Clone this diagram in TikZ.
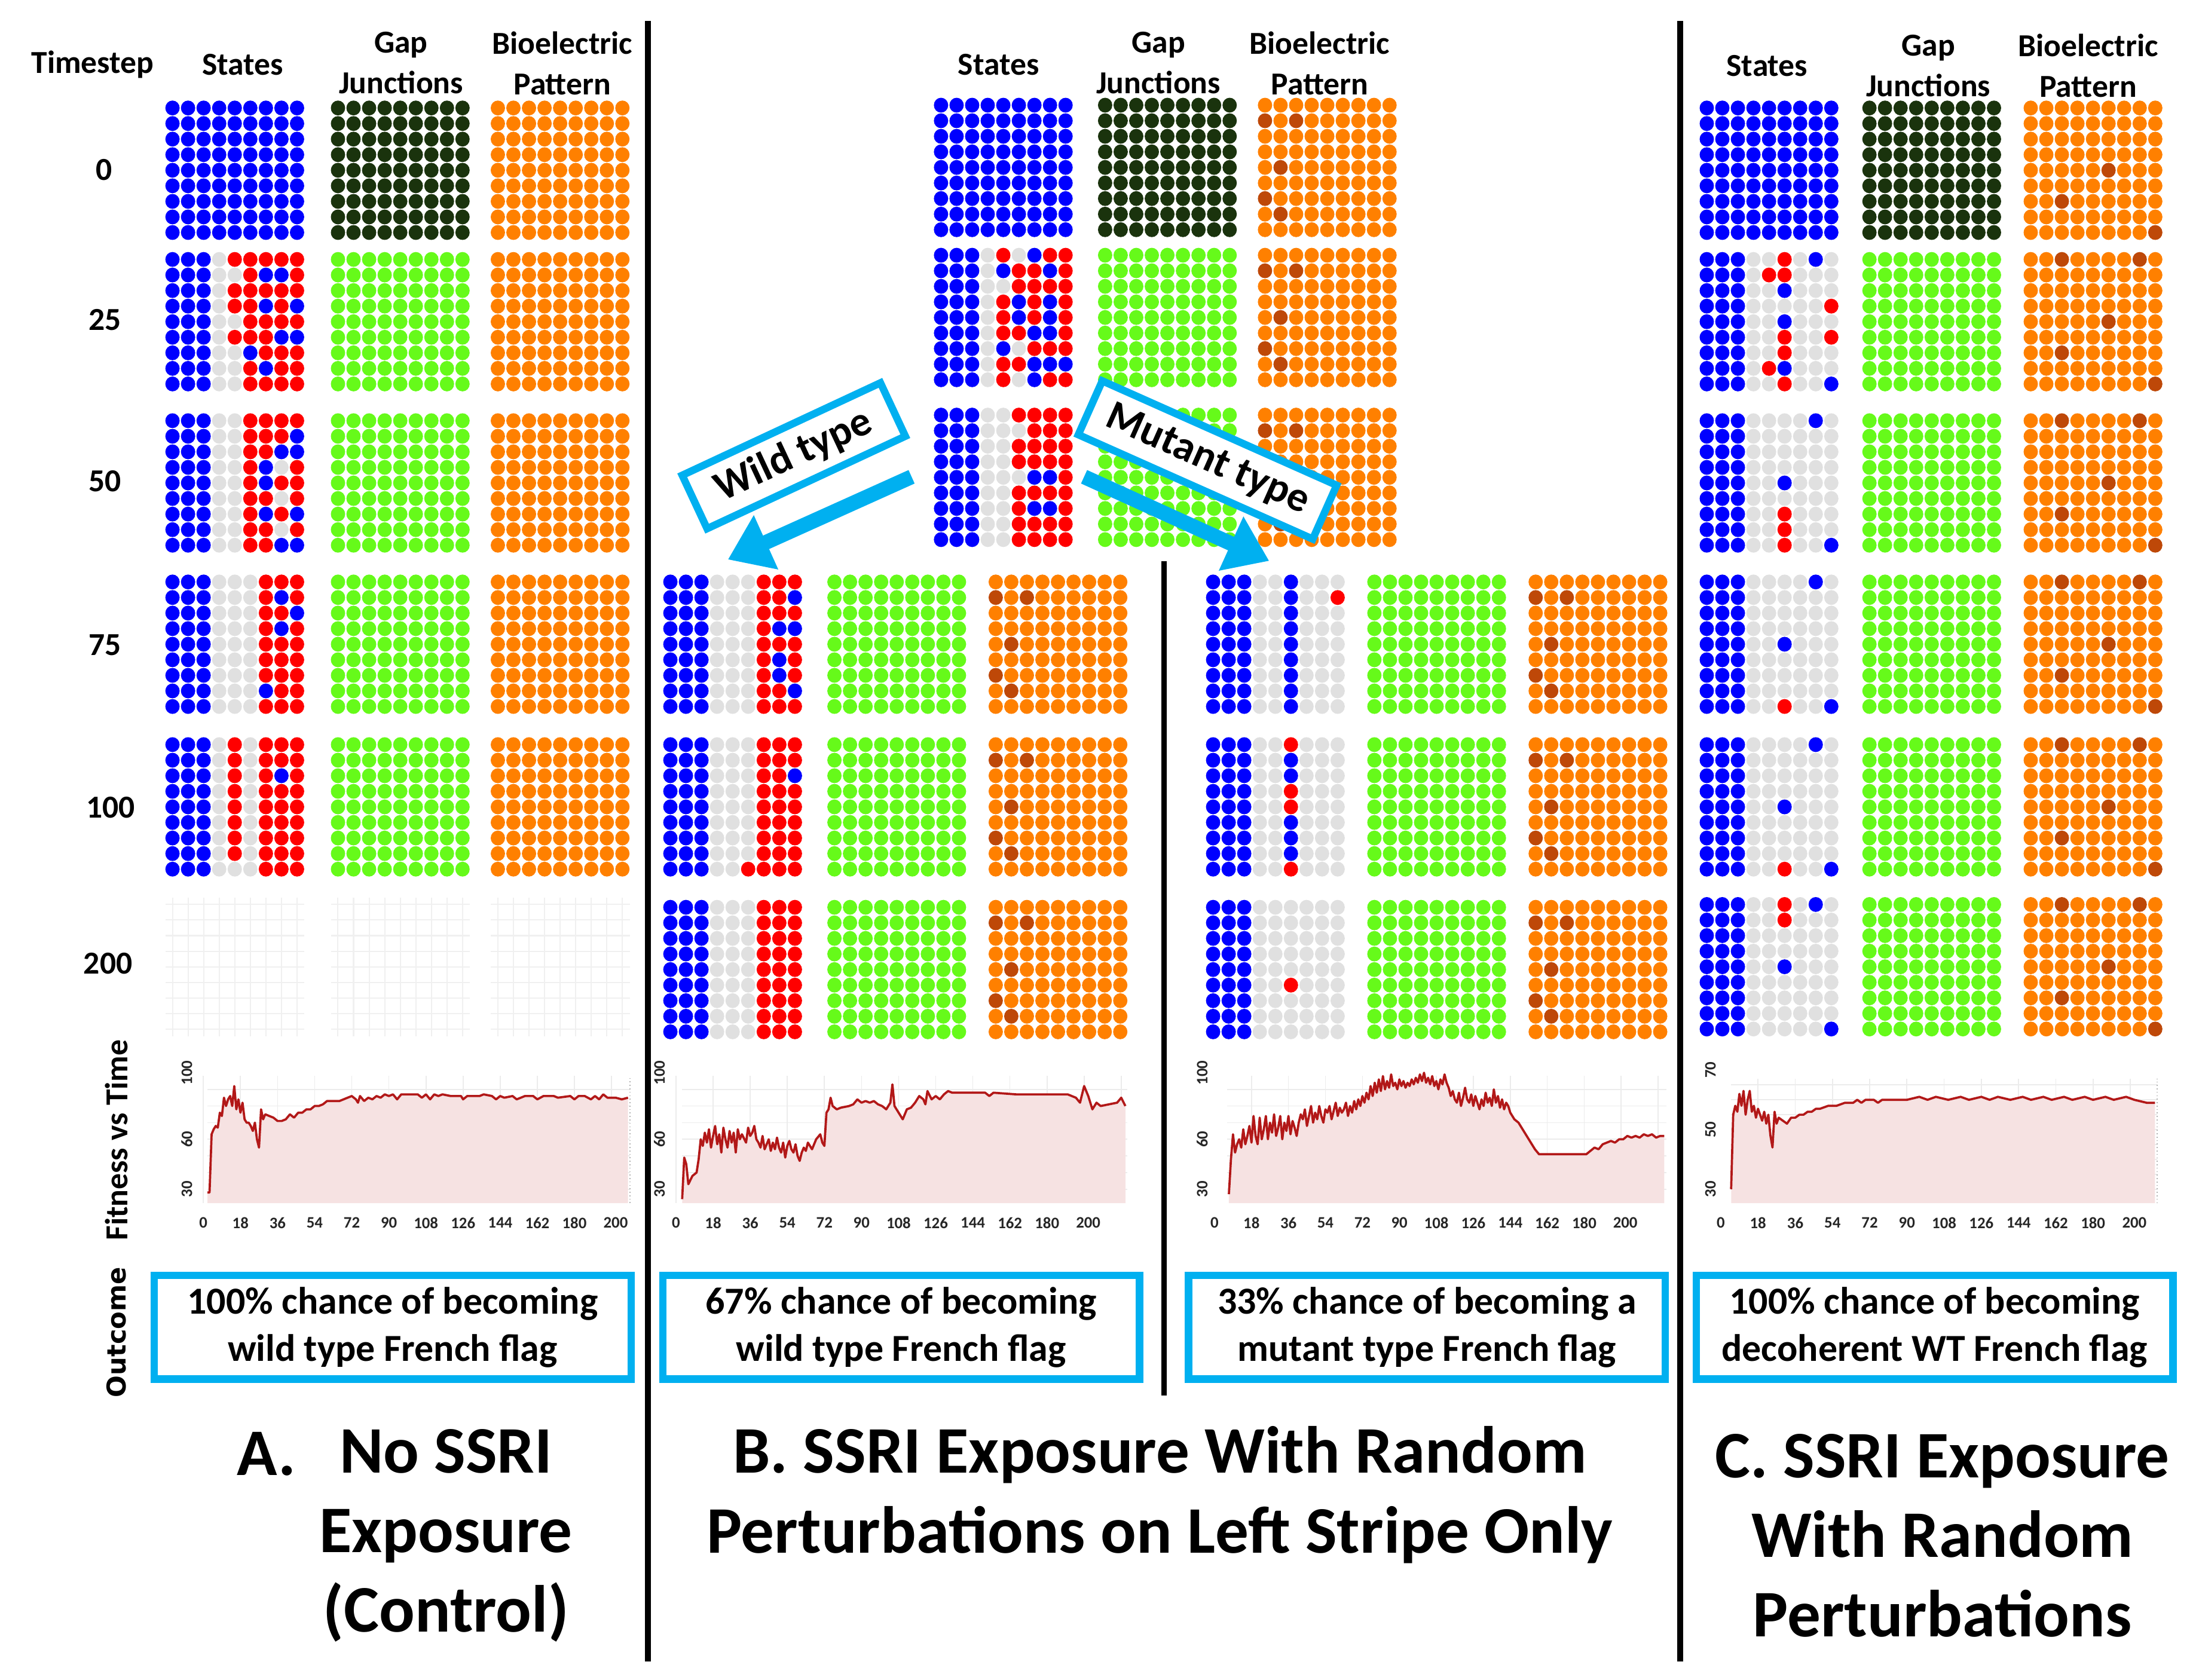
\documentclass[tikz,border=0pt]{standalone}
\usepackage{fontspec}
\setmainfont{Carlito}
\newfontfamily\outfont{DejaVu Sans}
\usetikzlibrary{arrows.meta}

\definecolor{stblue}{RGB}{0,0,255}
\definecolor{stred}{RGB}{255,0,0}
\definecolor{stgrey}{RGB}{224,224,224}
\definecolor{gjdark}{RGB}{26,51,13}
\definecolor{gjgreen}{RGB}{102,250,26}
\definecolor{bioorange}{RGB}{255,128,0}
\definecolor{biodark}{RGB}{190,72,8}
\definecolor{lineblue}{RGB}{0,176,240}
\definecolor{chartred}{RGB}{178,24,24}
\definecolor{chartpink}{RGB}{246,226,226}

% one 9x9 grid of cells, each row written as 9 letters
\newcount\gridcol
\newcount\gridrow
\newcommand\dotline[1]{\gridcol=0 \dotlineloop#1\relax}
\def\dotlineloop#1{\ifx\relax#1\else
  \fill[dot#1] ({\gx+5+11.1*\the\gridcol},{\gy+5+11.1*\the\gridrow}) circle[x radius=5.1, y radius=5.3];%
  \advance\gridcol by 1
  \expandafter\dotlineloop\fi}
\newcommand\stategrid[3]{%
  \def\gx{#1}\def\gy{#2}\global\gridrow=0
  \edef\gridrows{#3}%
  \foreach \rowcode in \gridrows {%
    \expandafter\dotline\expandafter{\rowcode}%
    \global\advance\gridrow by 1 }}
\newcommand\ghostgrid[2]{%
  \foreach \k in {0,...,8}{%
    \draw[ghost] ({#1+5+11.1*\k},#2) -- ++(0,99);
    \draw[ghost] (#1,{#2+5+11.1*\k}) -- ++(99,0);}}

\def\allblue{BBBBBBBBB,BBBBBBBBB,BBBBBBBBB,BBBBBBBBB,BBBBBBBBB,BBBBBBBBB,BBBBBBBBB,BBBBBBBBB,BBBBBBBBB}
\def\alldark{DDDDDDDDD,DDDDDDDDD,DDDDDDDDD,DDDDDDDDD,DDDDDDDDD,DDDDDDDDD,DDDDDDDDD,DDDDDDDDD,DDDDDDDDD}
\def\allgreen{GGGGGGGGG,GGGGGGGGG,GGGGGGGGG,GGGGGGGGG,GGGGGGGGG,GGGGGGGGG,GGGGGGGGG,GGGGGGGGG,GGGGGGGGG}
\def\allorange{OOOOOOOOO,OOOOOOOOO,OOOOOOOOO,OOOOOOOOO,OOOOOOOOO,OOOOOOOOO,OOOOOOOOO,OOOOOOOOO,OOOOOOOOO}
\def\bioB{OOOOOOOOO,XOXOOOOOO,OOOOOOOOO,OOOOOOOOO,OXOOOOOOO,OOOOOOOOO,XOOOOOOOO,OXOOOOOOO,OOOOOOOOO}
\def\bioC{OOXOOOOXO,OOOOOOOOO,OOOOOOOOO,OOOOOOOOO,OOOOOXOOO,OOOOOOOOO,OOXOOOOOO,OOOOOOOOO,OOOOOOOOX}
\def\bioCzero{OOOOOOOOO,OOOOOOOOO,OOOOOOOOO,OOOOOOOOO,OOOOOXOOO,OOOOOOOOO,OOXOOOOOO,OOOOOOOOO,OOOOOOOOX}

% fitness curves (time, fitness)
\def\fitA{(2,28) -- (3,28) -- (4,63) -- (5,66) -- (6,68) -- (7,67) -- (8,76) -- (9,74) -- (10,85) -- (11,80) -- (12,84) -- (13,86) -- (14,80) -- (15,92) -- (16,78) -- (17,84) -- (18,76) -- (19,82) -- (20,72) -- (21,70) -- (22,70) -- (23,68) -- (24,65) -- (25,70) -- (26,60) -- (27,55) -- (28,78) -- (29,72) -- (30,75) -- (32,74) -- (34,73) -- (36,71) -- (38,71) -- (40,72) -- (42,75) -- (44,73) -- (46,76) -- (48,76) -- (50,78) -- (52,78) -- (54,80) -- (56,80) -- (58,81) -- (60,83) -- (62,83) -- (66,83) -- (70,85) -- (72,86) -- (74,84) -- (75,82) -- (76,86) -- (78,83) -- (80,85) -- (82,84) -- (84,86) -- (86,85) -- (88,87) -- (90,86) -- (92,87) -- (94,84) -- (96,87) -- (100,87) -- (104,87) -- (106,85) -- (108,87) -- (110,84) -- (112,87) -- (114,86) -- (116,87) -- (120,86) -- (125,86) -- (126,84) -- (128,86) -- (134,86) -- (136,87) -- (140,86) -- (142,84) -- (144,86) -- (146,85) -- (150,86) -- (152,84) -- (156,86) -- (160,86) -- (162,84) -- (165,86) -- (170,86) -- (172,85) -- (178,86) -- (180,84) -- (182,86) -- (185,86) -- (188,84) -- (190,86) -- (192,84) -- (194,87) -- (196,85) -- (200,85) -- (203,84) -- (206,85)}
\def\fitB{(3,24) -- (4,49) -- (5,45) -- (6,33) -- (8,38) -- (10,40) -- (11,48) -- (12,60) -- (13,56) -- (14,64) -- (15,58) -- (16,66) -- (17,55) -- (18,62) -- (19,68) -- (20,57) -- (21,63) -- (22,52) -- (23,67) -- (24,60) -- (25,55) -- (26,65) -- (27,58) -- (28,64) -- (29,52) -- (30,66) -- (31,60) -- (32,63) -- (34,58) -- (35,67) -- (36,62) -- (37,64) -- (38,68) -- (39,60) -- (40,58) -- (41,55) -- (42,62) -- (43,54) -- (44,57) -- (45,60) -- (46,53) -- (47,58) -- (48,54) -- (49,61) -- (50,55) -- (51,52) -- (52,58) -- (53,49) -- (54,56) -- (55,59) -- (56,54) -- (57,52) -- (58,57) -- (59,50) -- (60,47) -- (61,52) -- (62,55) -- (63,53) -- (64,58) -- (65,56) -- (66,54) -- (67,57) -- (68,60) -- (70,63) -- (71,58) -- (72,56) -- (73,76) -- (74,78) -- (75,85) -- (76,80) -- (78,78) -- (80,79) -- (84,80) -- (86,81) -- (88,84) -- (90,82) -- (92,83) -- (94,82) -- (96,83) -- (98,81) -- (100,80) -- (102,78) -- (104,82) -- (105,93) -- (106,80) -- (108,76) -- (110,72) -- (112,78) -- (114,79) -- (116,82) -- (118,86) -- (120,84) -- (121,81) -- (122,89) -- (124,84) -- (126,86) -- (128,84) -- (130,87) -- (132,89) -- (134,88) -- (150,88) -- (152,86) -- (154,88) -- (165,87) -- (190,87) -- (194,85) -- (196,82) -- (198,92) -- (200,86) -- (202,78) -- (204,82) -- (206,80) -- (210,81) -- (214,82) -- (216,85) -- (218,80)}
\def\fitBm{(7,27) -- (8,48) -- (9,63) -- (10,52) -- (11,57) -- (12,60) -- (13,55) -- (14,66) -- (15,57) -- (16,62) -- (17,68) -- (18,58) -- (19,74) -- (20,62) -- (21,57) -- (22,73) -- (23,60) -- (24,66) -- (25,74) -- (26,60) -- (27,70) -- (28,64) -- (29,75) -- (30,62) -- (31,67) -- (32,74) -- (33,60) -- (34,70) -- (35,65) -- (36,74) -- (37,63) -- (38,71) -- (39,67) -- (40,62) -- (41,70) -- (42,75) -- (43,72) -- (44,78) -- (45,68) -- (46,74) -- (47,80) -- (48,70) -- (49,76) -- (50,72) -- (51,80) -- (52,74) -- (53,70) -- (54,78) -- (55,76) -- (56,80) -- (57,72) -- (58,77) -- (59,82) -- (60,74) -- (61,79) -- (62,76) -- (63,78) -- (64,82) -- (65,74) -- (66,80) -- (67,76) -- (68,83) -- (69,78) -- (70,84) -- (71,80) -- (72,86) -- (73,82) -- (74,88) -- (75,84) -- (76,92) -- (77,86) -- (78,94) -- (79,88) -- (80,96) -- (81,89) -- (82,98) -- (83,90) -- (84,95) -- (85,91) -- (86,99) -- (87,92) -- (88,94) -- (89,90) -- (90,96) -- (91,92) -- (92,95) -- (93,91) -- (94,94) -- (95,92) -- (96,96) -- (97,93) -- (98,97) -- (99,94) -- (100,99) -- (101,95) -- (102,100) -- (103,94) -- (104,97) -- (105,93) -- (106,98) -- (107,92) -- (108,95) -- (109,90) -- (110,96) -- (111,93) -- (112,99) -- (113,94) -- (114,91) -- (115,86) -- (116,89) -- (117,84) -- (118,82) -- (119,88) -- (120,80) -- (121,85) -- (122,91) -- (123,84) -- (124,82) -- (125,87) -- (126,80) -- (127,86) -- (128,82) -- (129,78) -- (130,84) -- (131,80) -- (132,88) -- (133,82) -- (134,85) -- (135,80) -- (136,90) -- (137,82) -- (138,86) -- (139,79) -- (140,84) -- (141,78) -- (142,82) -- (143,80) -- (144,76) -- (146,72) -- (148,70) -- (150,66) -- (152,62) -- (154,58) -- (156,54) -- (158,51) -- (181,51) -- (183,53) -- (185,55) -- (187,54) -- (189,57) -- (191,58) -- (193,59) -- (195,58) -- (197,60) -- (199,60) -- (201,62) -- (203,61) -- (205,62) -- (207,61) -- (209,63) -- (211,62) -- (213,63) -- (215,61) -- (217,62) -- (219,62)}
\def\fitC{(5,30) -- (6,55) -- (7,58) -- (8,56) -- (9,62) -- (10,58) -- (11,63) -- (12,55) -- (13,60) -- (14,63) -- (15,56) -- (16,58) -- (17,54) -- (18,57) -- (19,55) -- (20,53) -- (21,56) -- (22,52) -- (23,55) -- (24,48) -- (25,44) -- (26,56) -- (27,52) -- (28,54) -- (30,53) -- (32,52) -- (34,54) -- (36,54) -- (38,55) -- (40,55) -- (42,56) -- (44,56) -- (46,57) -- (48,57) -- (52,58) -- (56,58) -- (60,59) -- (64,59) -- (66,60) -- (68,59) -- (70,60) -- (74,60) -- (76,59) -- (78,60) -- (90,60) -- (96,61) -- (100,60) -- (104,61) -- (110,60) -- (116,61) -- (120,60) -- (126,61) -- (130,60) -- (134,61) -- (140,60) -- (146,61) -- (150,60) -- (156,61) -- (160,60) -- (166,61) -- (170,60) -- (176,61) -- (180,60) -- (186,61) -- (190,60) -- (196,61) -- (200,60) -- (206,59) -- (210,59)}

\tikzset{
  dotB/.style={fill=stblue}, dotR/.style={fill=stred}, dotW/.style={fill=stgrey},
  dotD/.style={fill=gjdark}, dotG/.style={fill=gjgreen},
  dotO/.style={fill=bioorange}, dotX/.style={fill=biodark},
  ghost/.style={draw=gray!12, line width=0.5pt},
  colhead/.style={font=\fontsize{13}{16.5}\selectfont\bfseries, align=center},
  rowlabel/.style={font=\fontsize{13}{15}\selectfont\bfseries},
  ticklabel/.style={font=\fontsize{6.5}{7}\selectfont\bfseries, inner sep=0pt, text=black!85},
  chartgrid/.style={draw=gray!15, line width=0.4pt},
  chartline/.style={draw=chartred, line width=0.9pt, line join=round},
  chartfill/.style={fill=chartpink},
  outcome/.style={draw=lineblue, line width=3pt, minimum width=6.8cm, minimum height=1.48cm,
    align=center, font=\fontsize{15.5}{19.3}\selectfont\bfseries},
  tagbox/.style={draw=lineblue, line width=3pt, fill=white, minimum height=0.84cm, inner sep=2pt,
    font=\fontsize{17}{19}\selectfont\bfseries},
  bigarrow/.style={draw=lineblue, line width=6pt, -{Triangle[width=23pt,length=17pt]}},
  divider/.style={line width=2.3pt},
  paneltitle/.style={font=\fontsize{27}{32.3}\selectfont\bfseries, align=center},
}

\begin{document}
\begin{tikzpicture}[x=0.02cm, y=-0.02cm]
\useasboundingbox (0,0) rectangle (1568,1198);

% headers
\node[colhead] (tshead) at (66,46) {Timestep};
\node[colhead] (stA) at (173,46) {States};
\node[colhead] (gjA) at (286,45) {Gap\\Junctions};
\node[colhead] (bpA) at (401,45) {Bioelectric\\Pattern};
\node[colhead] (stB) at (712,46) {States};
\node[colhead] (gjB) at (826,45) {Gap\\Junctions};
\node[colhead] (bpB) at (941,45) {Bioelectric\\Pattern};
\node[colhead] (stC) at (1260,47) {States};
\node[colhead] (gjC) at (1375,47) {Gap\\Junctions};
\node[colhead] (bpC) at (1489,47) {Bioelectric\\Pattern};

% timesteps
\node[rowlabel] (t0) at (74,121) {0};
\node[rowlabel] (t25) at (75,228) {25};
\node[rowlabel] (t50) at (75,343) {50};
\node[rowlabel] (t75) at (75,460) {75};
\node[rowlabel] (t100) at (79,576) {100};
\node[rowlabel] (t200) at (77,687) {200};

% panel A
\stategrid{118}{72}{\allblue}
\stategrid{236}{72}{\alldark}
\stategrid{350}{72}{\allorange}
\stategrid{118}{180}{BBBWRRRRR,BBBWWRBBR,BBBWRRRRR,BBBWRRBRB,BBBWWRRRR,BBBWRRRBB,BBBWWBRRR,BBBWWRBRR,BBBWWRRRR}
\stategrid{236}{180}{\allgreen}
\stategrid{350}{180}{\allorange}
\stategrid{118}{295}{BBBWWRRRR,BBBWWRRRB,BBBWWRRBB,BBBWWRBWR,BBBWWRBRR,BBBWWRRWR,BBBWWRBRB,BBBWWRRWR,BBBWWRRBB}
\stategrid{236}{295}{\allgreen}
\stategrid{350}{295}{\allorange}
\stategrid{118}{410}{BBBWWWRRR,BBBWWWRBR,BBBWWWRRB,BBBWWWRBR,BBBWWWRRR,BBBWWWRRR,BBBWWWRRR,BBBWWWBRR,BBBWWWRRR}
\stategrid{236}{410}{\allgreen}
\stategrid{350}{410}{\allorange}
\stategrid{118}{526}{BBBWRWRRR,BBBWRWRRR,BBBWRWRBR,BBBWRWRRR,BBBWRWRRR,BBBWRWRRR,BBBWRWRRR,BBBWRWRRR,BBBWWWRRR}
\stategrid{236}{526}{\allgreen}
\stategrid{350}{526}{\allorange}
\ghostgrid{118}{640}
\ghostgrid{236}{640}
\ghostgrid{350}{640}

% panel B, common start
\stategrid{666}{70}{\allblue}
\stategrid{783}{70}{\alldark}
\stategrid{897}{70}{\bioB}
\stategrid{666}{177}{BBBWRWBRR,BBBWBRRBR,BBBWWRRRR,BBBWRBRBR,BBBWRBRBR,BBBWRRBBR,BBBWBWRRR,BBBWRRBBB,BBBWRWBRR}
\stategrid{783}{177}{\allgreen}
\stategrid{897}{177}{\bioB}
\stategrid{666}{291}{BBBWWRRRR,BBBWWWRRR,BBBWWRRRR,BBBWWRRRR,BBBWWWBBR,BBBWWRRRR,BBBWWRBBR,BBBWWRRRR,BBBWWRRRR}
\stategrid{783}{291}{\allgreen}
\stategrid{897}{291}{\bioB}

% panel B, wild type branch
\stategrid{473}{410}{BBBWWWRRR,BBBWWWRRB,BBBWWWRRR,BBBWWWRBB,BBBWWWRRR,BBBWWWRBR,BBBWWWRBR,BBBWWWRRB,BBBWWWRRR}
\stategrid{590}{410}{\allgreen}
\stategrid{705}{410}{\bioB}
\stategrid{473}{526}{BBBWWWRRR,BBBWWWRRR,BBBWWWRRB,BBBWWWRRR,BBBWWWRRR,BBBWWWRRR,BBBWWWRRR,BBBWWWRRR,BBBWWRRRR}
\stategrid{590}{526}{\allgreen}
\stategrid{705}{526}{\bioB}
\stategrid{473}{642}{BBBWWWRRR,BBBWWWRRR,BBBWWWRRR,BBBWWWRRR,BBBWWWRRR,BBBWWWRRR,BBBWWWRRR,BBBWWWRRR,BBBWWWRRR}
\stategrid{590}{642}{\allgreen}
\stategrid{705}{642}{\bioB}

% panel B, mutant type branch
\stategrid{860}{410}{BBBWWBWWW,BBBWWBWWR,BBBWWBWWW,BBBWWBWWW,BBBWWBWWW,BBBWWBWWW,BBBWWBWWW,BBBWWBWWW,BBBWWBWWW}
\stategrid{975}{410}{\allgreen}
\stategrid{1090}{410}{\bioB}
\stategrid{860}{526}{BBBWWRWWW,BBBWWBWWW,BBBWWBWWW,BBBWWRWWW,BBBWWRWWW,BBBWWBWWW,BBBWWBWWW,BBBWWBWWW,BBBWWRWWW}
\stategrid{975}{526}{\allgreen}
\stategrid{1090}{526}{\bioB}
\stategrid{860}{642}{BBBWWWWWW,BBBWWWWWW,BBBWWWWWW,BBBWWWWWW,BBBWWWWWW,BBBWWRWWW,BBBWWWWWW,BBBWWWWWW,BBBWWWWWW}
\stategrid{975}{642}{\allgreen}
\stategrid{1090}{642}{\bioB}

% panel C
\stategrid{1212}{72}{\allblue}
\stategrid{1328}{72}{\alldark}
\stategrid{1443}{72}{\bioCzero}
\stategrid{1212}{180}{BBBWWRWBW,BBBWRRWWW,BBBWWBWWW,BBBWWWWWR,BBBWWBWWW,BBBWWRWWR,BBBWWRWWW,BBBWRBWWW,BBBWWRWWB}
\stategrid{1328}{180}{\allgreen}
\stategrid{1443}{180}{\bioC}
\stategrid{1212}{295}{BBBWWWWBW,BBBWWWWWW,BBBWWWWWW,BBBWWWWWW,BBBWWBWWW,BBBWWWWWW,BBBWWRWWW,BBBWWRWWW,BBBWWRWWB}
\stategrid{1328}{295}{\allgreen}
\stategrid{1443}{295}{\bioC}
\stategrid{1212}{410}{BBBWWWWBW,BBBWWWWWW,BBBWWWWWW,BBBWWWWWW,BBBWWBWWW,BBBWWWWWW,BBBWWWWWW,BBBWWWWWW,BBBWWRWWB}
\stategrid{1328}{410}{\allgreen}
\stategrid{1443}{410}{\bioC}
\stategrid{1212}{526}{BBBWWWWBW,BBBWWWWWW,BBBWWWWWW,BBBWWWWWW,BBBWWBWWW,BBBWWWWWW,BBBWWWWWW,BBBWWWWWW,BBBWWRWWB}
\stategrid{1328}{526}{\allgreen}
\stategrid{1443}{526}{\bioC}
\stategrid{1212}{640}{BBBWWRWBW,BBBWWRWWW,BBBWWWWWW,BBBWWWWWW,BBBWWBWWW,BBBWWWWWW,BBBWWWWWW,BBBWWWWWW,BBBWWWWWB}
\stategrid{1328}{640}{\allgreen}
\stategrid{1443}{640}{\bioC}

% branch tags and arrows
\coordinate (wtfrom) at (650,340);
\coordinate (wtto) at (519,399);
\coordinate (mtfrom) at (773,340);
\coordinate (mtto) at (905,400);
\node[tagbox, minimum width=3.12cm, rotate=25] (wildtag) at (566,325) {Wild type};
\node[tagbox, minimum width=3.66cm, rotate=-24] (muttag) at (861,328) {Mutant type};
\draw[bigarrow] (wtfrom) -- (wtto);
\draw[bigarrow] (mtfrom) -- (mtto);

% side labels
\node[colhead, rotate=90] (fitlabel) at (83,813) {Fitness vs Time};
\node[rotate=90, font=\outfont\fontsize{10.5}{12}\selectfont\bfseries] (outlabel) at (83,950) {Outcome};

% chart A
\begin{scope}[shift={(145,883.6)}, x=0.0294cm, y=0.02372cm]
  \foreach \val in {30,40,...,90} \draw[chartgrid] (2,\val) -- (207,\val);
  \foreach \tk in {0,18,...,198} \draw[chartgrid] (\tk,21.6) -- (\tk,98);
  \fill[chartfill] (2,21.6) -- \fitA -- (206,21.6) -- cycle;
  \draw[chartline] \fitA;
  \draw[gray!60, densely dotted] (207,21.6) -- (207,98);
  \foreach \tk in {0,18,...,180} \node[ticklabel] at (\tk,9.8) {\tk};
  \node[ticklabel] at (200,9.8) {200};
  \foreach \val in {30,60,100} \node[ticklabel, rotate=90] at (-8,\val) {\val};
\end{scope}

% chart B, wild type
\begin{scope}[shift={(482,883.6)}, x=0.0294cm, y=0.02372cm]
  \foreach \val in {30,40,...,90} \draw[chartgrid] (3,\val) -- (219,\val);
  \foreach \tk in {0,18,...,216} \draw[chartgrid] (\tk,21.6) -- (\tk,98);
  \fill[chartfill] (3,21.6) -- \fitB -- (218,21.6) -- cycle;
  \draw[chartline] \fitB;
  \foreach \tk in {0,18,...,180} \node[ticklabel] at (\tk,9.8) {\tk};
  \node[ticklabel] at (200,9.8) {200};
  \foreach \val in {30,60,100} \node[ticklabel, rotate=90] at (-8,\val) {\val};
\end{scope}

% chart B, mutant type
\begin{scope}[shift={(866,883.6)}, x=0.0293cm, y=0.02372cm]
  \foreach \val in {30,40,...,90} \draw[chartgrid] (6,\val) -- (220,\val);
  \foreach \tk in {18,36,...,216} \draw[chartgrid] (\tk,21.6) -- (\tk,98);
  \fill[chartfill] (7,21.6) -- \fitBm -- (219,21.6) -- cycle;
  \draw[chartline] \fitBm;
  \foreach \tk in {0,18,...,180} \node[ticklabel] at (\tk,9.8) {\tk};
  \node[ticklabel] at (200,9.8) {200};
  \foreach \val in {30,60,100} \node[ticklabel, rotate=90] at (-6,\val) {\val};
\end{scope}

% chart C
\begin{scope}[shift={(1227,911.75)}, x=0.0295cm, y=0.0425cm]
  \foreach \val in {30,35,...,65} \draw[chartgrid] (5,\val) -- (211,\val);
  \foreach \tk in {18,36,...,198} \draw[chartgrid] (\tk,25.3) -- (\tk,67);
  \fill[chartfill] (5,25.3) -- \fitC -- (210,25.3) -- cycle;
  \draw[chartline] \fitC;
  \draw[gray!60, densely dotted] (211,25.3) -- (211,67);
  \foreach \tk in {0,18,...,180} \node[ticklabel] at (\tk,18.7) {\tk};
  \node[ticklabel] at (200,18.7) {200};
  \foreach \val in {30,50,70} \node[ticklabel, rotate=90] at (-5,\val) {\val};
\end{scope}

% outcomes
\node[outcome] (outA) at (280,946.5) {100\% chance of becoming\\wild type French flag};
\node[outcome] (outBw) at (642.5,946.5) {67\% chance of becoming\\wild type French flag};
\node[outcome] (outBm) at (1017.5,946.5) {33\% chance of becoming a\\mutant type French flag};
\node[outcome] (outC) at (1379.5,946.5) {100\% chance of becoming\\decoherent WT French flag};

% panel titles
\node[paneltitle] (letterA) at (190,1037) {A.};
\node[paneltitle] (titleA) at (318,1095) {No SSRI\\Exposure\\(Control)};
\node[paneltitle] (titleB) at (827,1066) {B. SSRI Exposure With Random\\Perturbations on Left Stripe Only};
\node[paneltitle] (titleC) at (1385,1095) {C. SSRI Exposure\\With Random\\Perturbations};

% dividers
\draw[divider] (462,15) -- (462,1185);
\draw[divider] (1198,15) -- (1198,1185);
\draw[divider] (830,400) -- (830,995);
\end{tikzpicture}
\end{document}
